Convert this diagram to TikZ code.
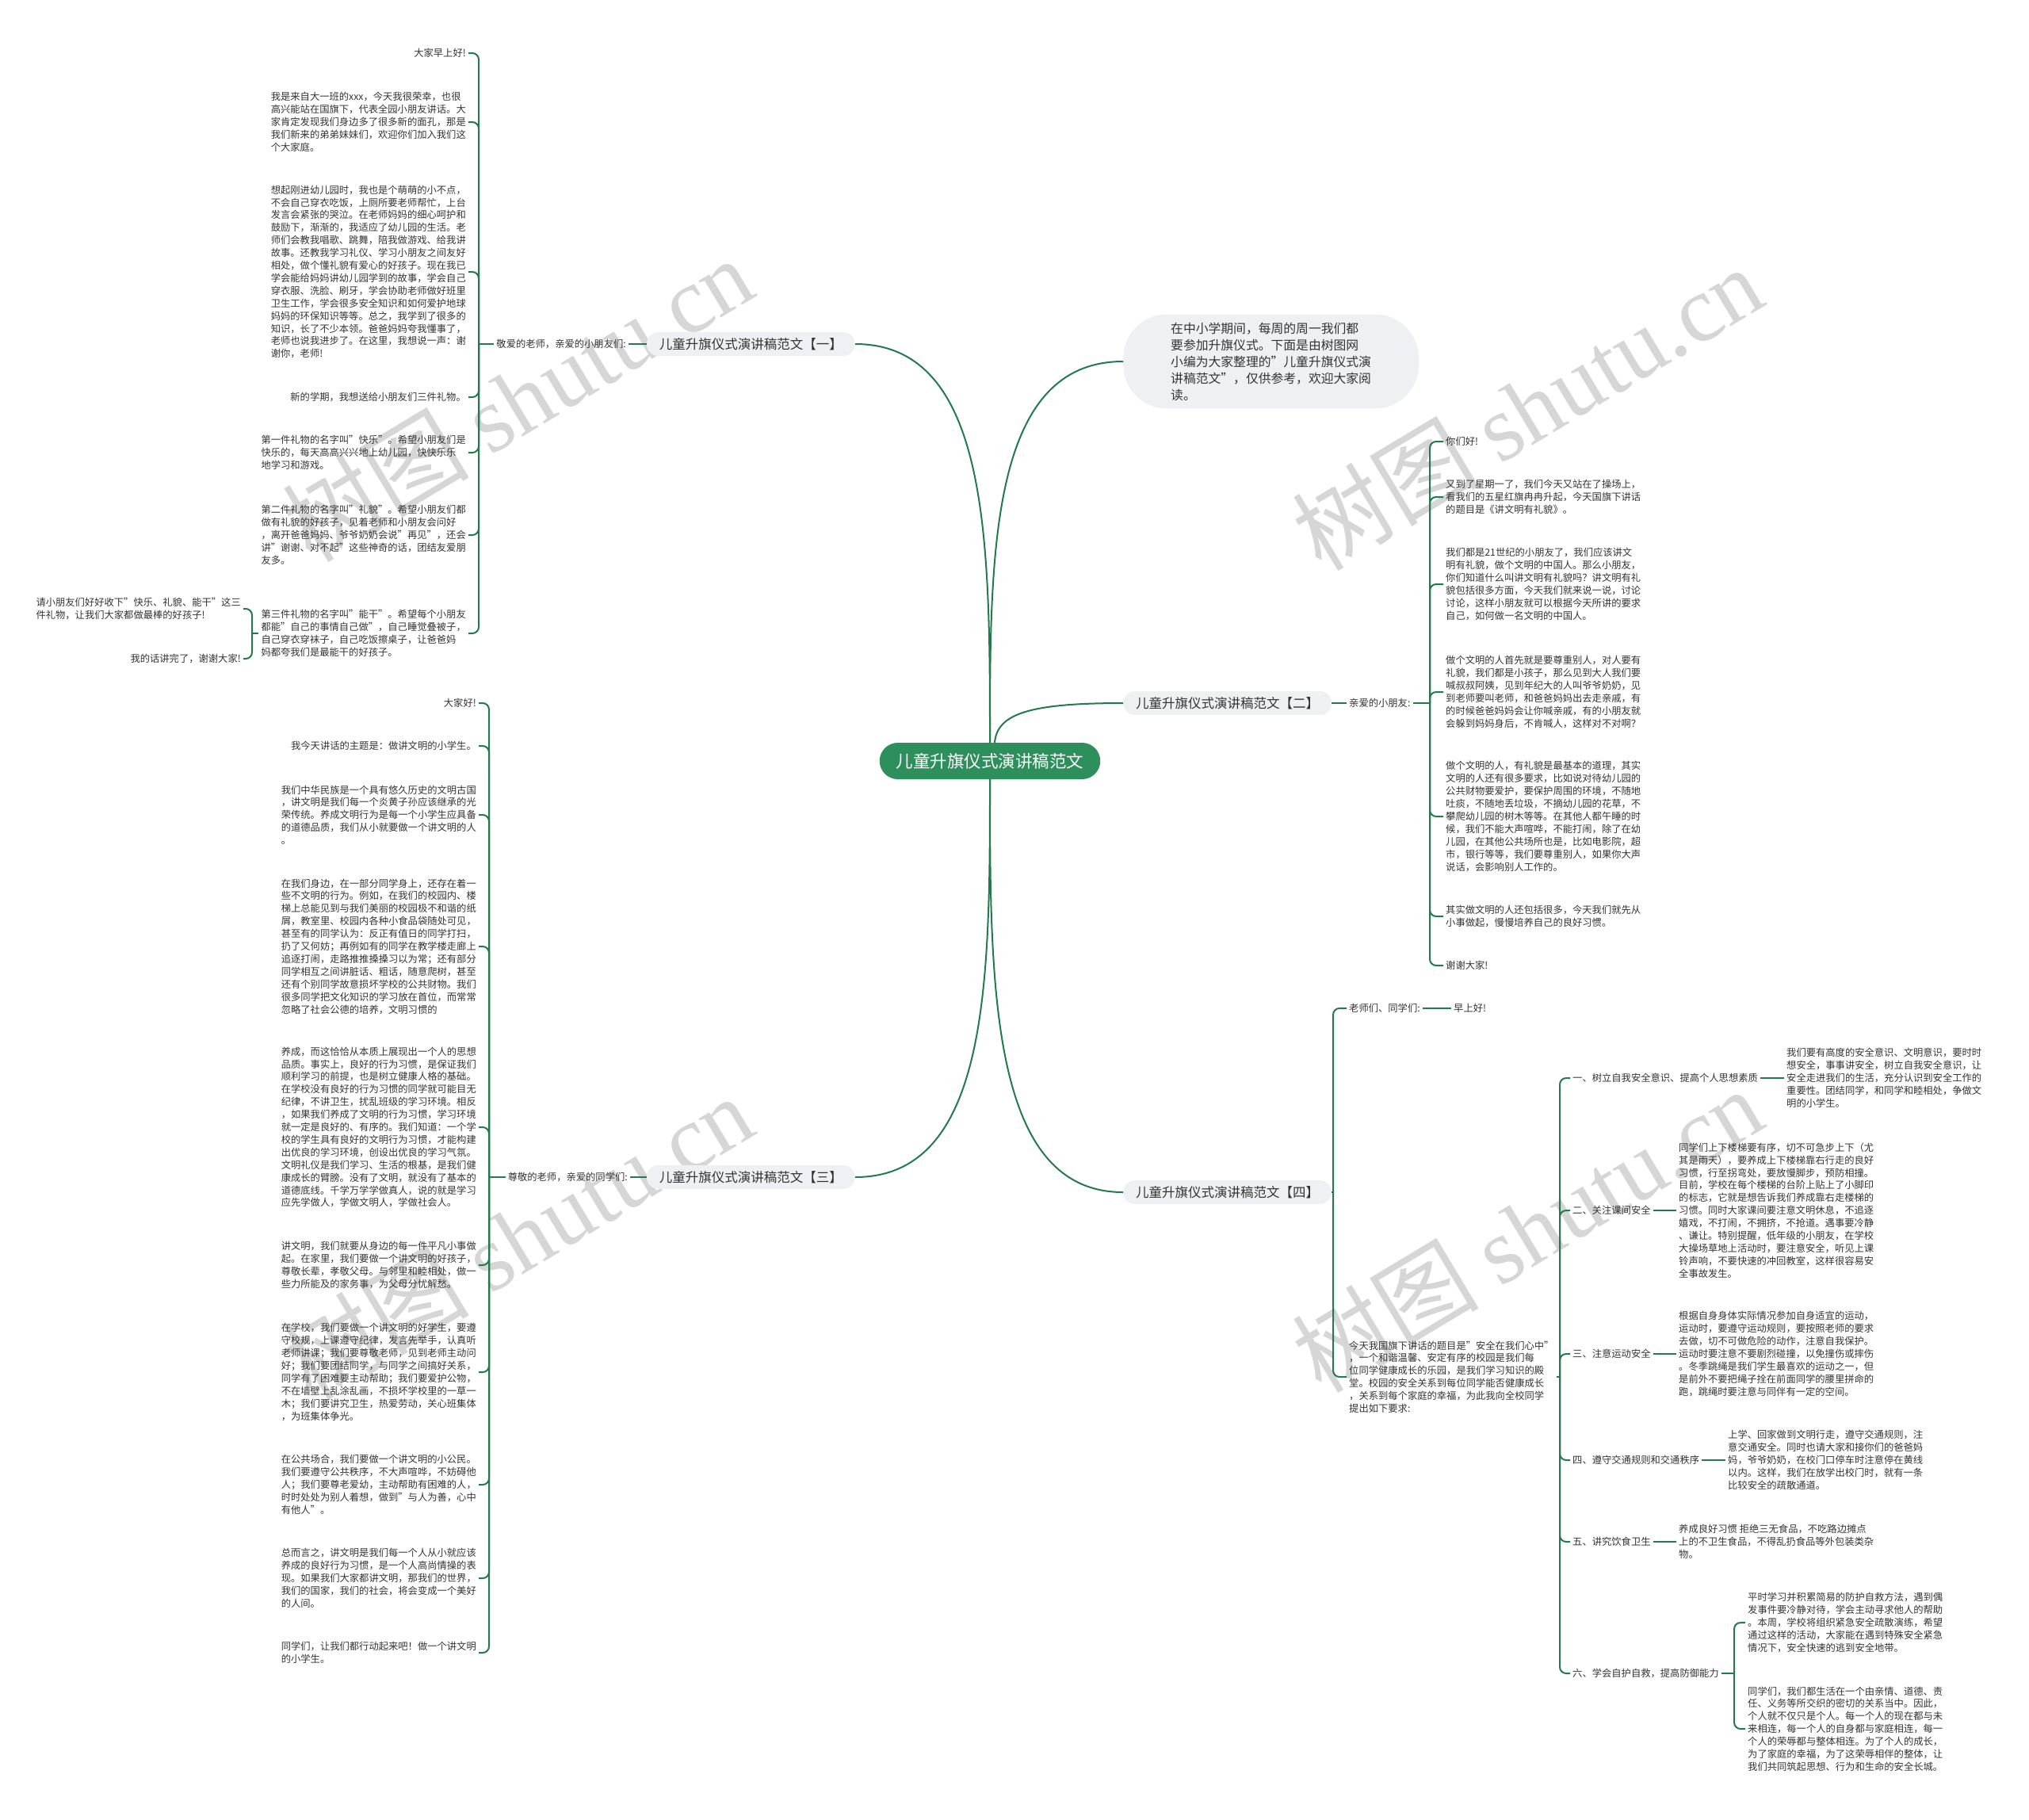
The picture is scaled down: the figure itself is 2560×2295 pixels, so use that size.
\documentclass[tikz,border=0pt]{standalone}
\usepackage{fontspec}
\setmainfont{Noto Sans CJK SC}
\newfontfamily\wmlatin{Liberation Serif}
\definecolor{rootgreen}{RGB}{44,143,92}
\definecolor{linegreen}{RGB}{35,122,77}
\definecolor{pillgray}{RGB}{238,240,243}
\definecolor{txt}{RGB}{51,51,51}
\definecolor{wmgray}{RGB}{214,214,214}
\newcommand\leaffont{\fontsize{12.3}{15.9}\selectfont}
\tikzset{
  leaf/.style={font=\leaffont, align=left, inner sep=3pt, text=txt},
  leafL/.style={leaf, anchor=east},
  leafR/.style={leaf, anchor=west},
  pill/.style={fill=pillgray, rounded corners=15, minimum height=30, inner xsep=16, inner ysep=0, font=\fontsize{16.5}{20}\selectfont, text=txt},
  conn/.style={draw=linegreen, line width=2, rounded corners=8},
  curve/.style={draw=linegreen, line width=2},
  wm/.style={rotate=31, text=wmgray, font=\fontsize{118}{118}\selectfont},
}
\begin{document}
\begin{tikzpicture}[x=1pt,y=-1pt]
\useasboundingbox (0,0) rectangle (2560,2295);
\fill[white] (0,0) rectangle (2560,2295);

% watermarks
\node[wm] (wm1) at (653,503) {树图 {\wmlatin shutu.cn}};
\node[wm] (wm2) at (653,1560) {树图 {\wmlatin shutu.cn}};
\node[wm] (wm3) at (1927,514) {树图 {\wmlatin shutu.cn}};
\node[wm] (wm4) at (1927,1551) {树图 {\wmlatin shutu.cn}};

% root
\node[fill=rootgreen, text=white, rounded corners=23, minimum height=46, inner xsep=21, inner ysep=0, font=\fontsize{21.5}{24}\selectfont] (root) at (1249,960) {儿童升旗仪式演讲稿范文};

% intro
\node[fill=pillgray, rounded corners=55, inner xsep=60, inner ysep=10, anchor=west, align=left, text=txt, font=\fontsize{15.8}{21}\selectfont] (intro) at (1417,456) {在中小学期间，每周的周一我们都\\要参加升旗仪式。下面是由树图网\\小编为大家整理的"儿童升旗仪式演\\讲稿范文"，仅供参考，欢迎大家阅\\读。};

% main branches
\node[pill, anchor=east] (b1) at (1079,434) {儿童升旗仪式演讲稿范文【一】};
\node[pill, anchor=west] (b2) at (1417,887) {儿童升旗仪式演讲稿范文【二】};
\node[pill, anchor=east] (b3) at (1079,1485) {儿童升旗仪式演讲稿范文【三】};
\node[pill, anchor=west] (b4) at (1417,1504) {儿童升旗仪式演讲稿范文【四】};

\draw[curve] (root.north) .. controls (1249,686) and (1249,434) .. (b1.east);
\draw[curve] (root.north) .. controls (1249,697) and (1249,456) .. (intro.west);
\draw[curve] ([xshift=6pt]root.north) .. controls (1258,900) and (1300,887) .. (b2.west);
\draw[curve] (root.south) .. controls (1249,1234) and (1249,1485) .. (b3.east);
\draw[curve] (root.south) .. controls (1249,1244) and (1249,1504) .. (b4.west);

% ---------------- branch 1 ----------------
\node[leafL] (s1) at (793,434) {敬爱的老师，亲爱的小朋友们:};
\coordinate (k1) at (604,434);
\node[leafL] (a1) at (591,67) {大家早上好!};
\node[leafL] (a2) at (591,154) {我是来自大一班的xxx，今天我很荣幸，也很\\高兴能站在国旗下，代表全园小朋友讲话。大\\家肯定发现我们身边多了很多新的面孔，那是\\我们新来的弟弟妹妹们，欢迎你们加入我们这\\个大家庭。};
\node[leafL] (a3) at (591,343) {想起刚进幼儿园时，我也是个萌萌的小不点，\\不会自己穿衣吃饭，上厕所要老师帮忙，上台\\发言会紧张的哭泣。在老师妈妈的细心呵护和\\鼓励下，渐渐的，我适应了幼儿园的生活。老\\师们会教我唱歌、跳舞，陪我做游戏、给我讲\\故事。还教我学习礼仪、学习小朋友之间友好\\相处，做个懂礼貌有爱心的好孩子。现在我已\\学会能给妈妈讲幼儿园学到的故事，学会自己\\穿衣服、洗脸、刷牙，学会协助老师做好班里\\卫生工作，学会很多安全知识和如何爱护地球\\妈妈的环保知识等等。总之，我学到了很多的\\知识，长了不少本领。爸爸妈妈夸我懂事了，\\老师也说我进步了。在这里，我想说一声：谢\\谢你，老师!};
\node[leafL] (a4) at (591,501) {新的学期，我想送给小朋友们三件礼物。};
\node[leafL] (a5) at (591,571) {第一件礼物的名字叫"快乐"。希望小朋友们是\\快乐的，每天高高兴兴地上幼儿园，快快乐乐\\地学习和游戏。};
\node[leafL] (a6) at (591,675) {第二件礼物的名字叫"礼貌"。希望小朋友们都\\做有礼貌的好孩子，见着老师和小朋友会问好\\，离开爸爸妈妈、爷爷奶奶会说"再见"，还会\\讲"谢谢、对不起"这些神奇的话，团结友爱朋\\友多。};
\node[leafL] (a7) at (591,799) {第三件礼物的名字叫"能干"。希望每个小朋友\\都能"自己的事情自己做"，自己睡觉叠被子，\\自己穿衣穿袜子，自己吃饭擦桌子，让爸爸妈\\妈都夸我们是最能干的好孩子。};
\coordinate (k1b) at (318,799);
\node[leafL] (a8) at (307,768) {请小朋友们好好收下"快乐、礼貌、能干"这三\\件礼物，让我们大家都做最棒的好孩子!};
\node[leafL] (a9) at (307,831) {我的话讲完了，谢谢大家!};

\draw[conn] (b1.west) -- (s1.east);
\draw[conn] (s1.west) -- (k1);
\foreach \q in {a1,a2,a3,a4,a5,a6,a7} \draw[conn] (k1) |- (\q.east);
\draw[conn] (a7.west) -- (k1b);
\foreach \q in {a8,a9} \draw[conn] (k1b) |- (\q.east);

% ---------------- branch 2 ----------------
\node[leafR] (s2) at (1699,887) {亲爱的小朋友:};
\coordinate (k2) at (1804,887);
\node[leafR] (d1) at (1821,557) {你们好!};
\node[leafR] (d2) at (1821,627) {又到了星期一了，我们今天又站在了操场上，\\看我们的五星红旗冉冉升起，今天国旗下讲话\\的题目是《讲文明有礼貌》。};
\node[leafR] (d3) at (1821,737) {我们都是21世纪的小朋友了，我们应该讲文\\明有礼貌，做个文明的中国人。那么小朋友，\\你们知道什么叫讲文明有礼貌吗？讲文明有礼\\貌包括很多方面，今天我们就来说一说，讨论\\讨论，这样小朋友就可以根据今天所讲的要求\\自己，如何做一名文明的中国人。};
\node[leafR] (d4) at (1821,873) {做个文明的人首先就是要尊重别人，对人要有\\礼貌，我们都是小孩子，那么见到大人我们要\\喊叔叔阿姨，见到年纪大的人叫爷爷奶奶，见\\到老师要叫老师，和爸爸妈妈出去走亲戚，有\\的时候爸爸妈妈会让你喊亲戚，有的小朋友就\\会躲到妈妈身后，不肯喊人，这样对不对啊？};
\node[leafR] (d5) at (1821,1030) {做个文明的人，有礼貌是最基本的道理，其实\\文明的人还有很多要求，比如说对待幼儿园的\\公共财物要爱护，要保护周围的环境，不随地\\吐痰，不随地丢垃圾，不摘幼儿园的花草，不\\攀爬幼儿园的树木等等。在其他人都午睡的时\\候，我们不能大声喧哗，不能打闹，除了在幼\\儿园，在其他公共场所也是，比如电影院，超\\市，银行等等，我们要尊重别人，如果你大声\\说话，会影响别人工作的。};
\node[leafR] (d6) at (1821,1156) {其实做文明的人还包括很多，今天我们就先从\\小事做起，慢慢培养自己的良好习惯。};
\node[leafR] (d7) at (1821,1218) {谢谢大家!};

\draw[conn] (b2.east) -- (s2.west);
\draw[conn] (s2.east) -- (k2);
\foreach \q in {d1,d2,d3,d4,d5,d6,d7} \draw[conn] (k2) |- (\q.west);

% ---------------- branch 3 ----------------
\node[leafL] (s3) at (795,1485) {尊敬的老师，亲爱的同学们:};
\coordinate (k3) at (617,1485);
\node[leafL] (c1) at (604,887) {大家好!};
\node[leafL] (c2) at (604,941) {我今天讲话的主题是：做讲文明的小学生。};
\node[leafL] (c3) at (604,1028) {我们中华民族是一个具有悠久历史的文明古国\\，讲文明是我们每一个炎黄子孙应该继承的光\\荣传统。养成文明行为是每一个小学生应具备\\的道德品质，我们从小就要做一个讲文明的人\\。};
\node[leafL] (c4) at (604,1194) {在我们身边，在一部分同学身上，还存在着一\\些不文明的行为。例如，在我们的校园内、楼\\梯上总能见到与我们美丽的校园极不和谐的纸\\屑，教室里、校园内各种小食品袋随处可见，\\甚至有的同学认为：反正有值日的同学打扫，\\扔了又何妨；再例如有的同学在教学楼走廊上\\追逐打闹，走路推推搡搡习以为常；还有部分\\同学相互之间讲脏话、粗话，随意爬树，甚至\\还有个别同学故意损坏学校的公共财物。我们\\很多同学把文化知识的学习放在首位，而常常\\忽略了社会公德的培养，文明习惯的};
\node[leafL] (c5) at (604,1422) {养成，而这恰恰从本质上展现出一个人的思想\\品质。事实上，良好的行为习惯，是保证我们\\顺利学习的前提，也是树立健康人格的基础。\\在学校没有良好的行为习惯的同学就可能目无\\纪律，不讲卫生，扰乱班级的学习环境。相反\\，如果我们养成了文明的行为习惯，学习环境\\就一定是良好的、有序的。我们知道：一个学\\校的学生具有良好的文明行为习惯，才能构建\\出优良的学习环境，创设出优良的学习气氛。\\文明礼仪是我们学习、生活的根基，是我们健\\康成长的臂膀。没有了文明，就没有了基本的\\道德底线。千学万学学做真人，说的就是学习\\应先学做人，学做文明人，学做社会人。};
\node[leafL] (c6) at (604,1596) {讲文明，我们就要从身边的每一件平凡小事做\\起。在家里，我们要做一个讲文明的好孩子，\\尊敬长辈，孝敬父母。与邻里和睦相处，做一\\些力所能及的家务事，为父母分忧解愁。};
\node[leafL] (c7) at (604,1731) {在学校，我们要做一个讲文明的好学生，要遵\\守校规，上课遵守纪律，发言先举手，认真听\\老师讲课；我们要尊敬老师，见到老师主动问\\好；我们要团结同学，与同学之间搞好关系，\\同学有了困难要主动帮助；我们要爱护公物，\\不在墙壁上乱涂乱画，不损坏学校里的一草一\\木；我们要讲究卫生，热爱劳动，关心班集体\\，为班集体争光。};
\node[leafL] (c8) at (604,1873) {在公共场合，我们要做一个讲文明的小公民。\\我们要遵守公共秩序，不大声喧哗，不妨碍他\\人；我们要尊老爱幼，主动帮助有困难的人，\\时时处处为别人着想，做到"与人为善，心中\\有他人"。};
\node[leafL] (c9) at (604,1991) {总而言之，讲文明是我们每一个人从小就应该\\养成的良好行为习惯，是一个人高尚情操的表\\现。如果我们大家都讲文明，那我们的世界，\\我们的国家，我们的社会，将会变成一个美好\\的人间。};
\node[leafL] (c10) at (604,2085) {同学们，让我们都行动起来吧！做一个讲文明\\的小学生。};

\draw[conn] (b3.west) -- (s3.east);
\draw[conn] (s3.west) -- (k3);
\foreach \q in {c1,c2,c3,c4,c5,c6,c7,c8,c9,c10} \draw[conn] (k3) |- (\q.east);

% ---------------- branch 4 ----------------
\coordinate (k4) at (1682,1504);
\node[leafR] (e1) at (1699,1272) {老师们、同学们:};
\node[leafR] (e1b) at (1831,1272) {早上好!};
\node[leafR] (e2) at (1699,1737) {今天我国旗下讲话的题目是"安全在我们心中"\\，一个和谐温馨、安定有序的校园是我们每\\位同学健康成长的乐园，是我们学习知识的殿\\堂。校园的安全关系到每位同学能否健康成长\\，关系到每个家庭的幸福，为此我向全校同学\\提出如下要求:};
\coordinate (k4b) at (1968,1737);
\node[leafR] (f1) at (1981,1360) {一、树立自我安全意识、提高个人思想素质};
\node[leafR] (f2) at (1981,1527) {二、关注课间安全};
\node[leafR] (f3) at (1981,1708) {三、注意运动安全};
\node[leafR] (f4) at (1981,1842) {四、遵守交通规则和交通秩序};
\node[leafR] (f5) at (1981,1945) {五、讲究饮食卫生};
\node[leafR] (f6) at (1981,2111) {六、学会自护自救，提高防御能力};
\node[leafR] (g1) at (2251,1360) {我们要有高度的安全意识、文明意识，要时时\\想安全，事事讲安全，树立自我安全意识，让\\安全走进我们的生活，充分认识到安全工作的\\重要性。团结同学，和同学和睦相处，争做文\\明的小学生。};
\node[leafR] (g2) at (2115,1527) {同学们上下楼梯要有序，切不可急步上下（尤\\其是雨天），要养成上下楼梯靠右行走的良好\\习惯，行至拐弯处，要放慢脚步，预防相撞。\\目前，学校在每个楼梯的台阶上贴上了小脚印\\的标志，它就是想告诉我们养成靠右走楼梯的\\习惯。同时大家课间要注意文明休息，不追逐\\嬉戏，不打闹，不拥挤，不抢道。遇事要冷静\\、谦让。特别提醒，低年级的小朋友，在学校\\大操场草地上活动时，要注意安全，听见上课\\铃声响，不要快速的冲回教室，这样很容易安\\全事故发生。};
\node[leafR] (g3) at (2115,1708) {根据自身身体实际情况参加自身适宜的运动，\\运动时，要遵守运动规则，要按照老师的要求\\去做，切不可做危险的动作，注意自我保护。\\运动时要注意不要剧烈碰撞，以免撞伤或摔伤\\。冬季跳绳是我们学生最喜欢的运动之一，但\\是前外不要把绳子拴在前面同学的腰里拼命的\\跑，跳绳时要注意与同伴有一定的空间。};
\node[leafR] (g4) at (2177,1842) {上学、回家做到文明行走，遵守交通规则，注\\意交通安全。同时也请大家和接你们的爸爸妈\\妈，爷爷奶奶，在校门口停车时注意停在黄线\\以内。这样，我们在放学出校门时，就有一条\\比较安全的疏散通道。};
\node[leafR] (g5) at (2115,1945) {养成良好习惯 拒绝三无食品，不吃路边摊点\\上的不卫生食品，不得乱扔食品等外包装类杂\\物。};
\coordinate (k6) at (2188,2111);
\node[leafR] (h1) at (2202,2047) {平时学习并积累简易的防护自救方法，遇到偶\\发事件要冷静对待，学会主动寻求他人的帮助\\。本周，学校将组织紧急安全疏散演练，希望\\通过这样的活动，大家能在遇到特殊安全紧急\\情况下，安全快速的逃到安全地带。};
\node[leafR] (h2) at (2202,2181) {同学们，我们都生活在一个由亲情、道德、责\\任、义务等所交织的密切的关系当中。因此，\\个人就不仅只是个人。每一个人的现在都与未\\来相连，每一个人的自身都与家庭相连，每一\\个人的荣辱都与整体相连。为了个人的成长，\\为了家庭的幸福，为了这荣辱相伴的整体，让\\我们共同筑起思想、行为和生命的安全长城。};

\draw[conn] (b4.east) -- (k4);
\foreach \q in {e1,e2} \draw[conn] (k4) |- (\q.west);
\draw[conn] (e1.east) -- (e1b.west);
\draw[conn] (e2.east) -- (k4b);
\foreach \q in {f1,f2,f3,f4,f5,f6} \draw[conn] (k4b) |- (\q.west);
\draw[conn] (f1.east) -- (f1.east -| g1.west);
\draw[conn] (f2.east) -- (f2.east -| g2.west);
\draw[conn] (f3.east) -- (f3.east -| g3.west);
\draw[conn] (f4.east) -- (f4.east -| g4.west);
\draw[conn] (f5.east) -- (f5.east -| g5.west);
\draw[conn] (f6.east) -- (k6);
\foreach \q in {h1,h2} \draw[conn] (k6) |- (\q.west);
\end{tikzpicture}
\end{document}
